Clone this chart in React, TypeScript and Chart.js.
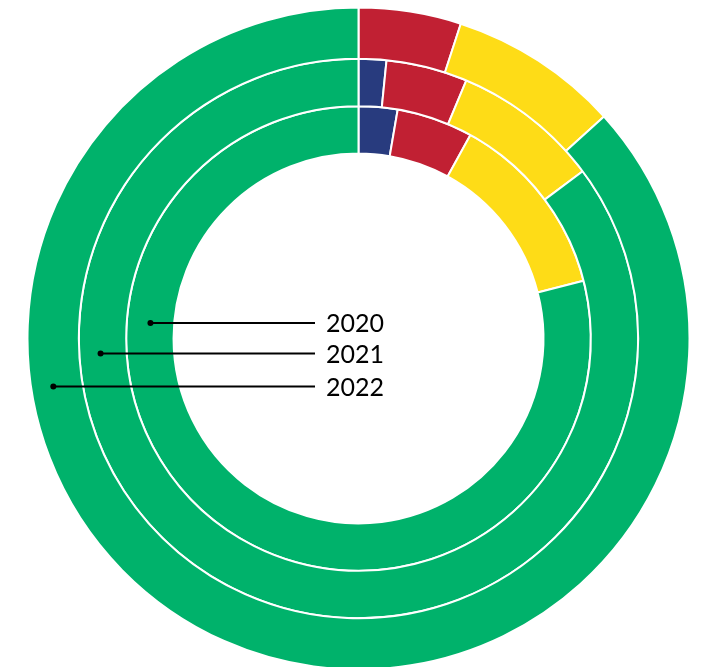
import React, { useEffect, useRef } from "react";
import { Chart, registerables } from "chart.js";

Chart.register(...registerables);

const categories = ["Blue", "Red", "Yellow", "Green"];
const years = ["2022", "2021", "2020"];
const values2022 = [0, 5.0, 8.3, 86.7];
const values2021 = [1.6, 4.7, 8.5, 85.2];
const values2020 = [2.7, 5.3, 13.0, 79.0];
const colors = ["#283B7E", "#C12033", "#FEDC17", "#00B26B"];
const ringWeights = [52, 48, 48];
// vertical offset (px) of each year label from the chart centre
const labelOffsets = [48, 15, -15.5];
// radial position of each label dot within its ring (0 = inner edge, 1 = outer)
const dotFractions = [0.57, 0.55, 0.5];

const labelPlugin = {
  id: "yearLabels",
  afterDatasetsDraw(chart: any) {
    const ctx = chart.ctx;
    ctx.save();
    chart.data.datasets.forEach((ds: any, i: number) => {
      const meta = chart.getDatasetMeta(i);
      const arc = meta.data[meta.data.length - 1];
      if (!arc) return;
      const { x: cx, y: cy, innerRadius, outerRadius } = arc.getProps(
        ["x", "y", "innerRadius", "outerRadius"],
        true
      );
      const r = innerRadius + (outerRadius - innerRadius) * dotFractions[i];
      const dy = labelOffsets[i];
      const y = cy + dy;
      const x = cx - Math.sqrt(r * r - dy * dy);
      ctx.strokeStyle = "#000";
      ctx.lineWidth = 2;
      ctx.beginPath();
      ctx.moveTo(x, y);
      ctx.lineTo(315, y);
      ctx.stroke();
      ctx.fillStyle = "#000";
      ctx.beginPath();
      ctx.arc(x, y, 3, 0, Math.PI * 2);
      ctx.fill();
      ctx.font = "25px Lato";
      ctx.textAlign = "left";
      ctx.textBaseline = "middle";
      ctx.fillText(ds.label, 326, y + 1);
    });
    ctx.restore();
  },
};

export default function App() {
  const ref = useRef<HTMLCanvasElement>(null);
  useEffect(() => {
    if (!ref.current) return;
    const chart = new Chart(ref.current, {
      type: "doughnut",
      data: {
        labels: categories,
        datasets: [
          { label: years[0], data: values2022, weight: ringWeights[0] },
          { label: years[1], data: values2021, weight: ringWeights[1] },
          { label: years[2], data: values2020, weight: ringWeights[2] },
        ].map((d) => ({
          ...d,
          backgroundColor: colors,
          borderColor: "#ffffff",
          borderWidth: 2,
          clip: false as any,
        })),
      },
      options: {
        responsive: false,
        animation: false,
        radius: 331,
        cutout: 183,
        layout: { padding: { left: 8, top: 10, right: 0, bottom: 0 } },
        plugins: {
          legend: { display: false },
          tooltip: { enabled: false },
        },
      },
      plugins: [labelPlugin],
    });
    return () => chart.destroy();
  }, []);
  return (
    <div style={{ position: "absolute", left: 0, top: 0, width: 709, height: 667 }}>
      <canvas ref={ref} width={709} height={667} style={{ width: 709, height: 667 }} />
    </div>
  );
}
